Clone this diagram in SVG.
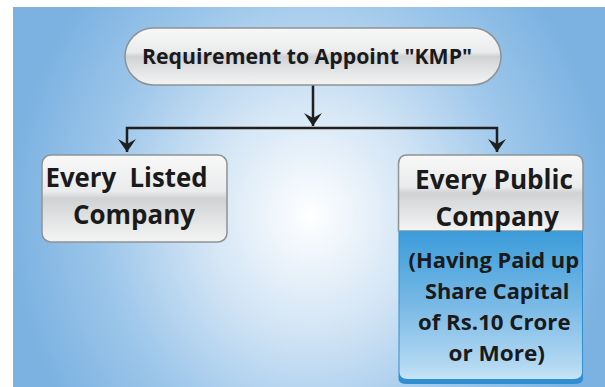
<svg xmlns="http://www.w3.org/2000/svg" width="605" height="387" viewBox="0 0 605 387">
<defs>
<radialGradient id="bg" cx="310" cy="215" r="300" gradientUnits="userSpaceOnUse" gradientTransform="translate(310 215) scale(1 1.1) translate(-310 -215)">
<stop offset="0" stop-color="#ffffff"/>
<stop offset="0.35" stop-color="#d3e5f5"/>
<stop offset="0.7" stop-color="#9cc6ea"/>
<stop offset="1" stop-color="#7cb2e1"/>
</radialGradient>
<linearGradient id="gloss" x1="0" y1="0" x2="0" y2="1">
<stop offset="0" stop-color="#f8f8f8"/>
<stop offset="0.42" stop-color="#eaebec"/>
<stop offset="0.5" stop-color="#cfd1d3"/>
<stop offset="0.62" stop-color="#d9dbdd"/>
<stop offset="1" stop-color="#f4f4f4"/>
</linearGradient>
<linearGradient id="blue" x1="0" y1="0" x2="0" y2="1">
<stop offset="0" stop-color="#3b9cda"/>
<stop offset="0.5" stop-color="#79b9e6"/>
<stop offset="0.92" stop-color="#b4d9f2"/>
<stop offset="1" stop-color="#c9e4f6"/>
</linearGradient>
<marker id="arr" viewBox="0 0 16 18" refX="15" refY="9" markerWidth="16" markerHeight="18" markerUnits="userSpaceOnUse" orient="auto-start-reverse">
<path d="M2,0 L15,9 L2,18 L7,9 Z" fill="#1f1f1f"/>
</marker>
<style>
.t{font-family:"Open Sans",Lato,"Liberation Sans",sans-serif;font-weight:bold;fill:#1a1a1a;white-space:pre}
.box{stroke:#8e9294;stroke-width:1.5}
.ln{stroke:#1f1f1f;stroke-width:2.5;fill:none}
</style>
</defs>
<rect x="0" y="0" width="605" height="387" fill="#ffffff"/>
<rect x="13" y="7" width="592" height="380" fill="url(#bg)"/>

<g id="connectors">
<line class="ln" x1="313" y1="85" x2="313" y2="126" marker-end="url(#arr)"/>
<polyline class="ln" points="127,152 127,128 497,128 497,152" marker-start="url(#arr)" marker-end="url(#arr)"/>
</g>

<g id="node-kmp">
<rect class="box" x="125" y="28" width="376" height="57" rx="28.5" fill="url(#gloss)"/>
<text class="t" x="142" y="63.5" font-size="22" textLength="330" lengthAdjust="spacingAndGlyphs">Requirement to Appoint "KMP"</text>
</g>

<g id="node-listed">
<rect class="box" x="42" y="155" width="185" height="87" rx="9" fill="url(#gloss)"/>
<text class="t" x="45.5" y="187.3" font-size="26" textLength="162" lengthAdjust="spacingAndGlyphs">Every  Listed</text>
<text class="t" x="73" y="224" font-size="26" textLength="122" lengthAdjust="spacingAndGlyphs">Company</text>
</g>

<g id="node-public">
<path d="M398.5,379 L398.5,164 Q398.5,155 407.5,155 L574,155 Q583,155 583,164 L583,379 Q583,384 574,384 L407.5,384 Q398.5,384 398.5,379 Z" fill="#2f8fd0"/>
<path class="box" d="M398.5,231 L398.5,164 Q398.5,155 407.5,155 L574,155 Q583,155 583,164 L583,231 Z" fill="url(#gloss)"/>
<path d="M399.5,231 L582,231 L582,372 Q582,379 574,379 L407.5,379 Q399.5,379 399.5,372 Z" fill="url(#blue)"/>
<text class="t" x="415" y="189" font-size="26" textLength="158" lengthAdjust="spacingAndGlyphs">Every Public</text>
<text class="t" x="435.5" y="226" font-size="26" textLength="123.5" lengthAdjust="spacingAndGlyphs">Company</text>
<text class="t" x="408.5" y="268" font-size="22" textLength="170.5" lengthAdjust="spacingAndGlyphs">(Having Paid up</text>
<text class="t" x="425" y="299.3" font-size="22" textLength="144.5" lengthAdjust="spacingAndGlyphs">Share Capital</text>
<text class="t" x="418" y="330" font-size="22" textLength="152.5" lengthAdjust="spacingAndGlyphs">of Rs.10 Crore</text>
<text class="t" x="448.5" y="361" font-size="22" textLength="96.5" lengthAdjust="spacingAndGlyphs">or More)</text>
</g>
</svg>
